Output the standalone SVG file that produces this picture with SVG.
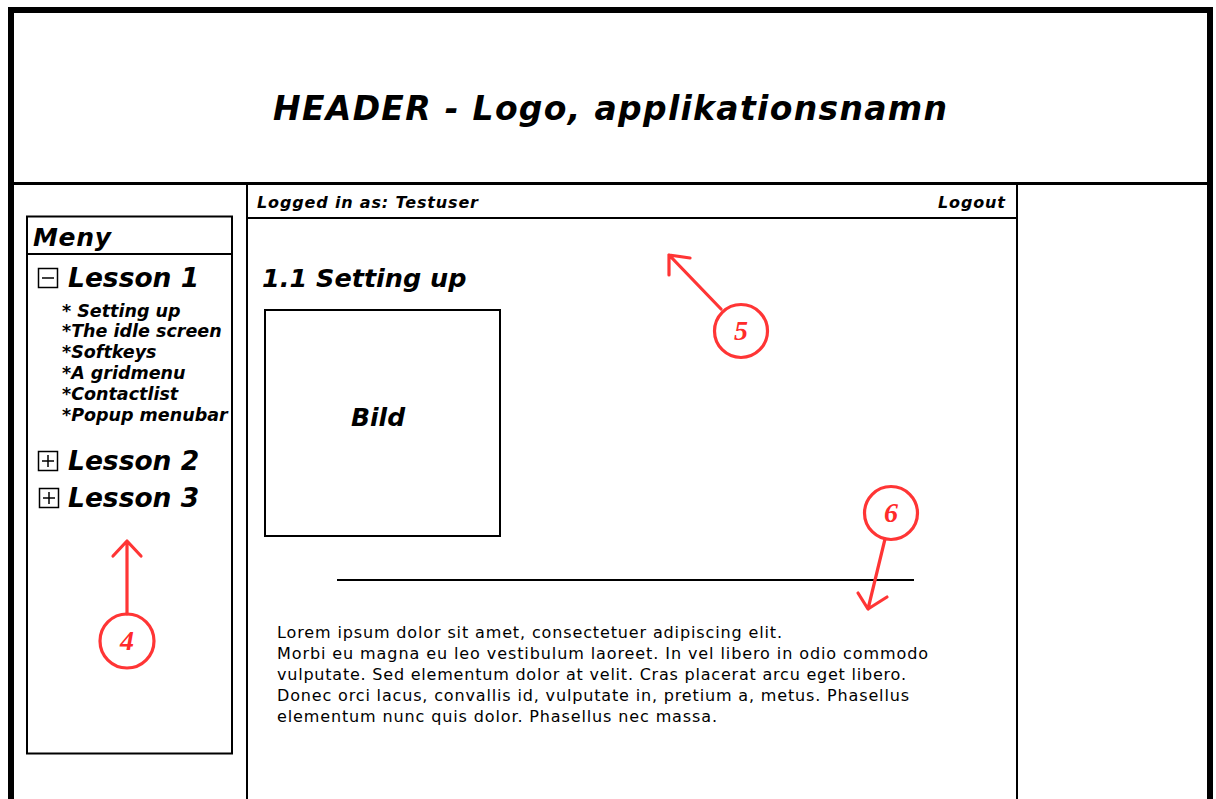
<svg xmlns="http://www.w3.org/2000/svg" width="1216" height="799" viewBox="0 0 1216 799">
<style>
.bi{font-family:"DejaVu Sans","Verdana",sans-serif;font-weight:bold;font-style:italic;fill:#000}
.rg{font-family:"DejaVu Sans","Verdana",sans-serif;font-size:16px;fill:#000}
.ln{stroke:#000;fill:none}
.red{stroke:#ff3535;stroke-width:3.2;fill:none;stroke-linecap:round;stroke-linejoin:round}
.num{font-family:"Liberation Serif",serif;font-weight:bold;font-style:italic;font-size:28px;fill:#ff2a2a;text-anchor:middle}
</style>
<rect x="0" y="0" width="1216" height="799" fill="#fff"/>
<g id="frame">
<rect x="11" y="10" width="1199" height="800" class="ln" stroke-width="6"/>
<line x1="11" y1="183.5" x2="1210" y2="183.5" class="ln" stroke-width="3"/>
</g>
<g id="header">
<text x="273" y="120" class="bi" font-size="33" textLength="674" lengthAdjust="spacing">HEADER - Logo, applikationsnamn</text>
</g>
<g id="menu">
<rect x="27" y="216.5" width="205" height="537" class="ln" stroke-width="2"/>
<line x1="27" y1="254" x2="232" y2="254" class="ln" stroke-width="2"/>
<text x="33" y="246" class="bi" font-size="25" textLength="78" lengthAdjust="spacing">Meny</text>
<rect x="38.5" y="268.5" width="19" height="19" class="ln" stroke-width="1.5"/>
<line x1="42" y1="278" x2="54" y2="278" class="ln" stroke-width="1.5"/>
<text x="68" y="287" class="bi" font-size="26.5">Lesson 1</text>
<g class="bi" font-size="17.5">
<text x="62" y="317">* Setting up</text>
<text x="62" y="337">*The idle screen</text>
<text x="62" y="358">*Softkeys</text>
<text x="62" y="379">*A gridmenu</text>
<text x="62" y="400">*Contactlist</text>
<text x="62" y="421">*Popup menubar</text>
</g>
<rect x="38.5" y="451.5" width="19" height="19" class="ln" stroke-width="1.5"/>
<line x1="42" y1="461" x2="54" y2="461" class="ln" stroke-width="1.5"/>
<line x1="48" y1="455" x2="48" y2="467" class="ln" stroke-width="1.5"/>
<text x="68" y="470" class="bi" font-size="26.5">Lesson 2</text>
<rect x="39.5" y="488.5" width="19" height="19" class="ln" stroke-width="1.5"/>
<line x1="43" y1="498" x2="55" y2="498" class="ln" stroke-width="1.5"/>
<line x1="49" y1="492" x2="49" y2="504" class="ln" stroke-width="1.5"/>
<text x="68" y="507" class="bi" font-size="26.5">Lesson 3</text>
</g>
<g id="content">
<line x1="247" y1="184" x2="247" y2="810" class="ln" stroke-width="2"/>
<line x1="1017" y1="184" x2="1017" y2="810" class="ln" stroke-width="2"/>
<line x1="247" y1="218" x2="1017" y2="218" class="ln" stroke-width="2"/>
<text x="257" y="208" class="bi" font-size="16" textLength="221" lengthAdjust="spacing">Logged in as: Testuser</text>
<text x="938" y="208" class="bi" font-size="16" textLength="67" lengthAdjust="spacing">Logout</text>
<text x="262" y="287" class="bi" font-size="25.5">1.1 Setting up</text>
<rect x="265" y="310" width="235" height="226" class="ln" stroke-width="2"/>
<text x="378" y="426" class="bi" font-size="25" text-anchor="middle">Bild</text>
<line x1="337" y1="580" x2="914" y2="580" class="ln" stroke-width="2"/>
<g class="rg">
<text x="277" y="638" textLength="505" lengthAdjust="spacing">Lorem ipsum dolor sit amet, consectetuer adipiscing elit.</text>
<text x="277" y="659" textLength="651" lengthAdjust="spacing">Morbi eu magna eu leo vestibulum laoreet. In vel libero in odio commodo</text>
<text x="277" y="680" textLength="629" lengthAdjust="spacing">vulputate. Sed elementum dolor at velit. Cras placerat arcu eget libero.</text>
<text x="277" y="701" textLength="632" lengthAdjust="spacing">Donec orci lacus, convallis id, vulputate in, pretium a, metus. Phasellus</text>
<text x="277" y="722" textLength="440" lengthAdjust="spacing">elementum nunc quis dolor. Phasellus nec massa.</text>
</g>
</g>
<g id="callout-4">
<circle cx="127" cy="641" r="27" class="red"/>
<text x="127" y="650" class="num">4</text>
</g>
<g id="callout-5">
<circle cx="741" cy="331" r="26.5" class="red"/>
<text x="741" y="340" class="num">5</text>
</g>
<g id="callout-6">
<circle cx="891" cy="513" r="26.5" class="red"/>
<text x="891" y="522" class="num">6</text>
</g>
<g id="connectors">
<path d="M127 614 L127 541 M113 556 L127 541 L141 556" class="red"/>
<path d="M721 309 L669 255 M669 275 L669 255 L690 258" class="red"/>
<path d="M885 539 L868 609 M858 593 L868 609 L887 597" class="red"/>
</g>
</svg>
